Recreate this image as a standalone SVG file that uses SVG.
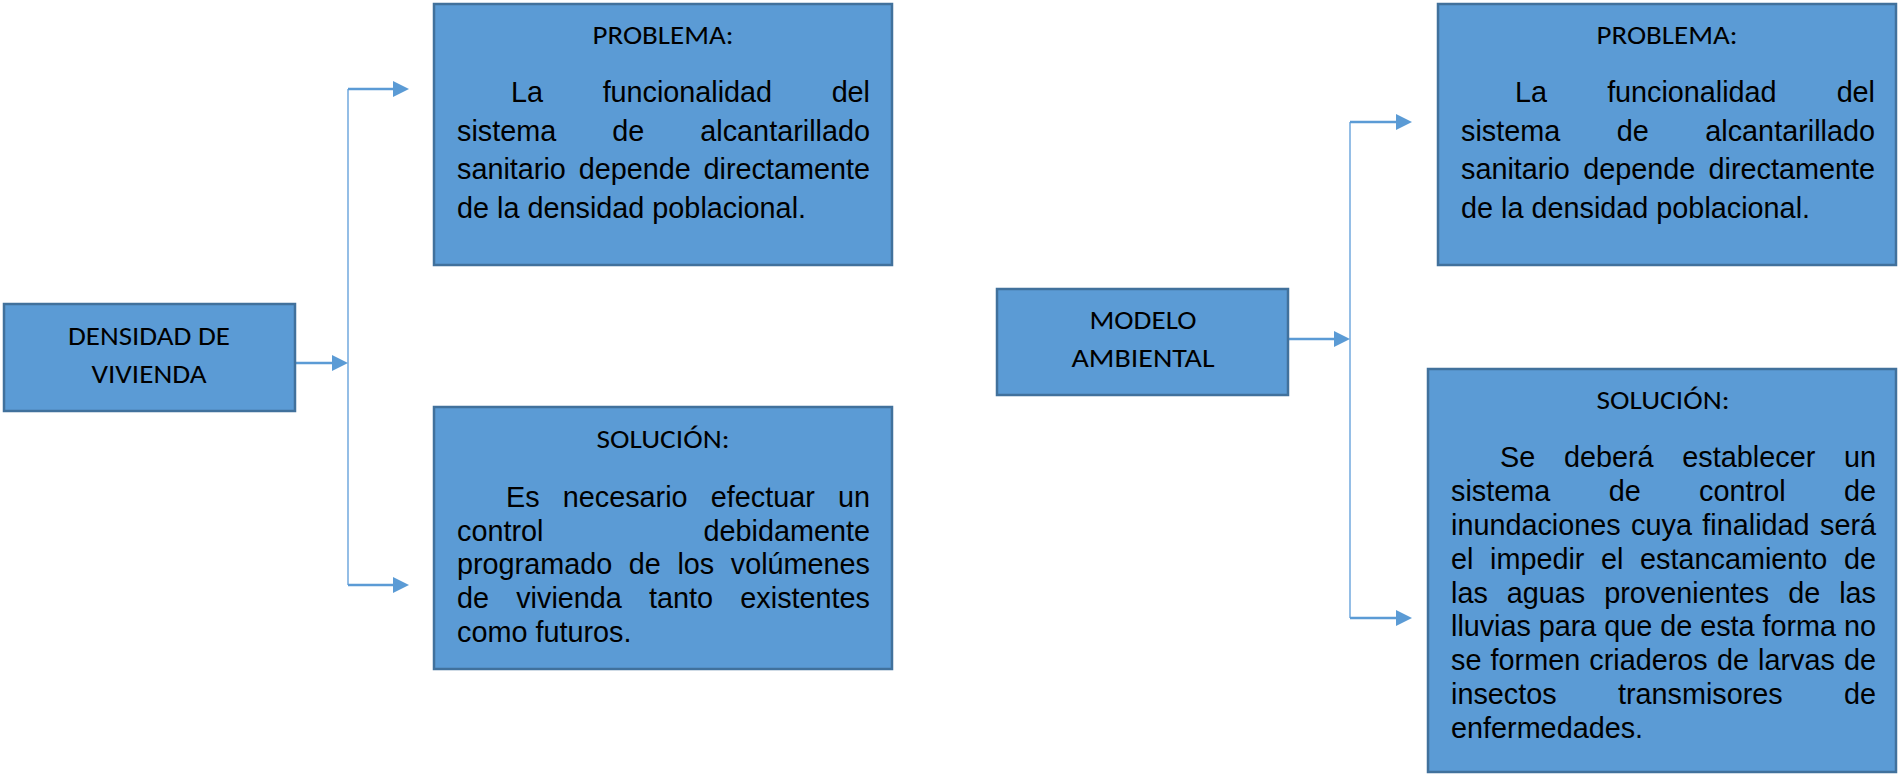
<svg xmlns="http://www.w3.org/2000/svg" width="1898" height="774" viewBox="0 0 1898 774">
<style>
.box{fill:#5B9BD5;stroke:#41719C;stroke-width:2.5}
.hd{font-family:Carlito,Lato,"Open Sans",sans-serif;font-size:27px;fill:#000;text-anchor:middle}
.bd{font-family:"Liberation Sans",Arial,sans-serif;font-size:28.8px;fill:#000}
.arr{fill:none;stroke:#5B9BD5;stroke-width:2.5;marker-end:url(#ah)}
.trunk{fill:none;stroke:#7AAEE0;stroke-width:1.6}
</style>
<defs>
<marker id="ah" markerUnits="userSpaceOnUse" viewBox="0 0 16 16" refX="8" refY="8" markerWidth="16" markerHeight="16" orient="auto">
<path d="M0,0 L16,8 L0,16 z" fill="#5B9BD5"/>
</marker>
</defs>
<rect width="1898" height="774" fill="#fff"/>

<g id="connectors">
<line class="trunk" x1="348" y1="89" x2="348" y2="585"/>
<line class="arr" x1="295" y1="363" x2="340" y2="363"/>
<line class="arr" x1="348" y1="89" x2="401" y2="89"/>
<line class="arr" x1="348" y1="585" x2="401" y2="585"/>
<line class="trunk" x1="1350" y1="122" x2="1350" y2="618"/>
<line class="arr" x1="1288" y1="339" x2="1342" y2="339"/>
<line class="arr" x1="1350" y1="122" x2="1404" y2="122"/>
<line class="arr" x1="1350" y1="618" x2="1404" y2="618"/>
</g>

<g id="densidad">
<rect class="box" x="4" y="304" width="291" height="107"/>
<text class="hd" x="149" y="345" textLength="162" lengthAdjust="spacingAndGlyphs">DENSIDAD DE</text>
<text class="hd" x="149" y="383" textLength="115" lengthAdjust="spacingAndGlyphs">VIVIENDA</text>
</g>

<g id="problema1">
<rect class="box" x="434" y="4" width="458" height="261"/>
<text class="hd" x="663" y="43.5" textLength="141" lengthAdjust="spacingAndGlyphs">PROBLEMA:</text>
<text class="bd" x="511" y="102" word-spacing="51.7" textLength="359" lengthAdjust="spacing">La funcionalidad del</text>
<text class="bd" x="457" y="141" word-spacing="48" textLength="413" lengthAdjust="spacing">sistema de alcantarillado</text>
<text class="bd" x="457" y="179" word-spacing="4.8" textLength="413" lengthAdjust="spacing">sanitario depende directamente</text>
<text class="bd" x="457" y="218">de la densidad poblacional.</text>
</g>

<g id="solucion1">
<rect class="box" x="434" y="407" width="458" height="262"/>
<text class="hd" x="663" y="448" textLength="133" lengthAdjust="spacingAndGlyphs">SOLUCIÓN:</text>
<text class="bd" x="506" y="507" word-spacing="15.2" textLength="364" lengthAdjust="spacing">Es necesario efectuar un</text>
<text class="bd" x="457" y="541" word-spacing="152.1" textLength="413" lengthAdjust="spacing">control debidamente</text>
<text class="bd" x="457" y="574" word-spacing="8.6" textLength="413" lengthAdjust="spacing">programado de los volúmenes</text>
<text class="bd" x="457" y="608" word-spacing="19.2" textLength="413" lengthAdjust="spacing">de vivienda tanto existentes</text>
<text class="bd" x="457" y="642">como futuros.</text>
</g>

<g id="modelo">
<rect class="box" x="997" y="289" width="291" height="106"/>
<text class="hd" x="1143" y="329" textLength="107" lengthAdjust="spacingAndGlyphs">MODELO</text>
<text class="hd" x="1143" y="367" textLength="143" lengthAdjust="spacingAndGlyphs">AMBIENTAL</text>
</g>

<g id="problema2">
<rect class="box" x="1438" y="4" width="458" height="261"/>
<text class="hd" x="1667" y="43.5" textLength="141" lengthAdjust="spacingAndGlyphs">PROBLEMA:</text>
<text class="bd" x="1515" y="102" word-spacing="52.2" textLength="360" lengthAdjust="spacing">La funcionalidad del</text>
<text class="bd" x="1461" y="141" word-spacing="48.5" textLength="414" lengthAdjust="spacing">sistema de alcantarillado</text>
<text class="bd" x="1461" y="179" word-spacing="5.3" textLength="414" lengthAdjust="spacing">sanitario depende directamente</text>
<text class="bd" x="1461" y="218">de la densidad poblacional.</text>
</g>

<g id="solucion2">
<rect class="box" x="1428" y="369" width="468" height="403"/>
<text class="hd" x="1663" y="409" textLength="133" lengthAdjust="spacingAndGlyphs">SOLUCIÓN:</text>
<text class="bd" x="1500" y="467" word-spacing="20.7" textLength="376" lengthAdjust="spacing">Se deberá establecer un</text>
<text class="bd" x="1451" y="501" word-spacing="50.4" textLength="425" lengthAdjust="spacing">sistema de control de</text>
<text class="bd" x="1451" y="535" word-spacing="2.4" textLength="425" lengthAdjust="spacing">inundaciones cuya finalidad será</text>
<text class="bd" x="1451" y="569" word-spacing="8.6" textLength="425" lengthAdjust="spacing">el impedir el estancamiento de</text>
<text class="bd" x="1451" y="603" word-spacing="11" textLength="425" lengthAdjust="spacing">las aguas provenientes de las</text>
<text class="bd" x="1451" y="636" word-spacing="0" textLength="425" lengthAdjust="spacing">lluvias para que de esta forma no</text>
<text class="bd" x="1451" y="670" word-spacing="1.1" textLength="425" lengthAdjust="spacing">se formen criaderos de larvas de</text>
<text class="bd" x="1451" y="704" word-spacing="53.2" textLength="425" lengthAdjust="spacing">insectos transmisores de</text>
<text class="bd" x="1451" y="738">enfermedades.</text>
</g>
</svg>
